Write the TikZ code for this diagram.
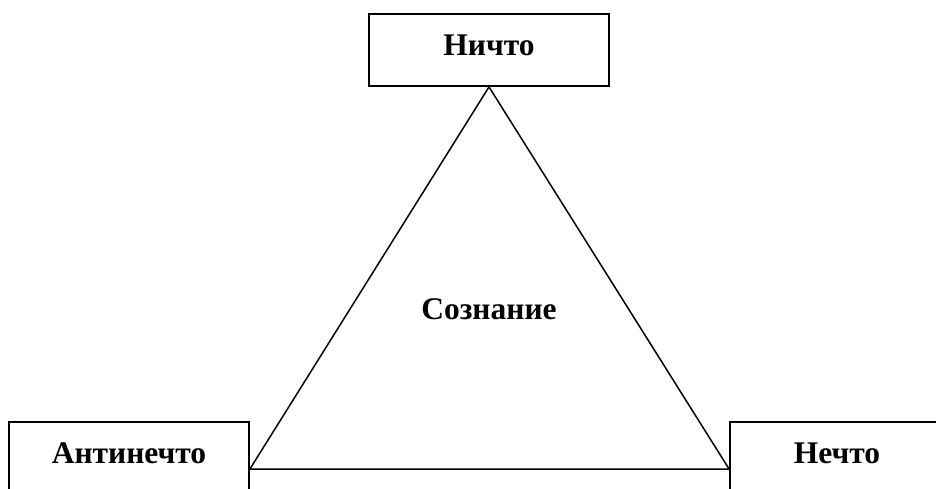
\documentclass[tikz,border=0pt]{standalone}
\usepackage{fontspec}
\setmainfont{Liberation Serif}
\usetikzlibrary{positioning}

\begin{document}
\begin{tikzpicture}[
  x=1pt,y=-1pt,
  box/.style={rectangle,draw,line width=1.8pt,minimum width=240pt,minimum height=72pt,
    inner sep=0pt,text depth=10pt,font=\bfseries\fontsize{31.5}{36}\selectfont},
  side/.style={line width=1.5pt}
]
\useasboundingbox (0,0) rectangle (936,488);
\clip (0,0) rectangle (936,488);
\fill[white] (0,0) rectangle (936,488);

\node[box] (nichto) at (489,50) {Ничто};
\node[box] (antinechto) at (129,458) {Антинечто};
\node[box,minimum width=214pt] (nechto) at (837,458) {Нечто};
\node[font=\bfseries\fontsize{31.5}{36}\selectfont] (soznanie) at (489,309) {Сознание};

% triangle
\coordinate (left) at ([yshift=-11pt]antinechto.east);
\coordinate (right) at ([yshift=-11pt]nechto.west);
\draw[side] (nichto.south) -- (left) -- (right) -- cycle;

\end{tikzpicture}
\end{document}
